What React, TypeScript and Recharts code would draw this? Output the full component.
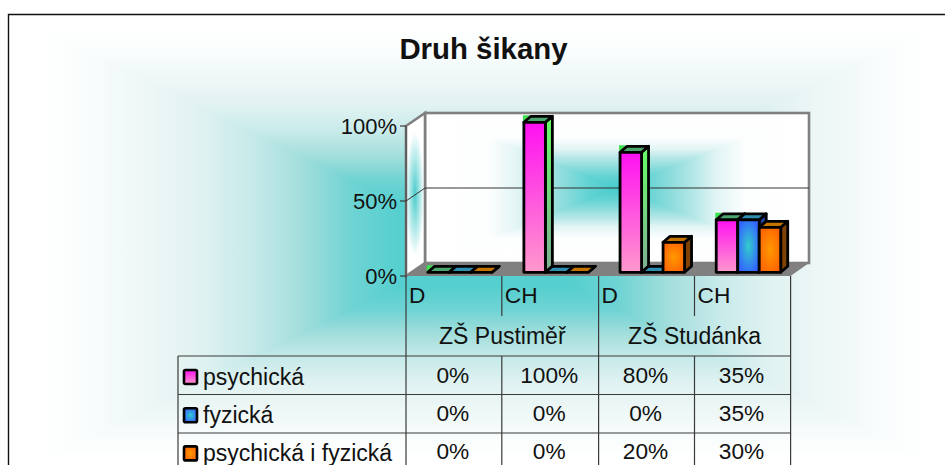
import { BarChart, Bar, XAxis, YAxis, CartesianGrid } from 'recharts';

const categories = ['D', 'CH', 'D', 'CH'];
const schools = ['ZŠ Pustiměř', 'ZŠ Studánka'];
const seriesNames = ['psychická', 'fyzická', 'psychická i fyzická'];
const psychicka = [0, 100, 80, 35];
const fyzicka = [0, 0, 0, 35];
const oboji = [0, 0, 20, 30];
const yTicks = [0, 50, 100];

const seriesValues = [psychicka, fyzicka, oboji];
const chartData = categories.map((c, i) => ({
  key: i,
  label: c,
  psychicka: psychicka[i],
  fyzicka: fyzicka[i],
  oboji: oboji[i],
}));

const FONT = "'Liberation Sans', Arial, sans-serif";
const TEXT = '#111111';
const LINE = '#3a3a3a';

// plot box of the bars (front plane of the columns)
const PLOT = { left: 411.7, right: 796.4, top: 122.3, bottom: 272.3 };
// wall and floor corners
const FRONT = { left: 406, right: 790.6, top: 126, bottom: 276 };
const BACK = { left: 425, right: 809, top: 113, bottom: 263 };
const DEPTH_X = 7;
const DEPTH_Y = 6;

const columns = [406, 501.8, 598.6, 694.5, 790.6];
const rows = [356, 394.5, 433, 471];

const bgStops: [number, string][] = [
  [0, '#ffffff'],
  [0.09, '#fafdfd'],
  [0.24, '#edf7f6'],
  [0.36, '#dff2f1'],
  [0.47, '#c8eaea'],
  [0.58, '#a5dfdd'],
  [0.7, '#6fd3d3'],
  [0.81, '#55cfcf'],
  [1, '#52cdcd'],
];
const wallStops: [number, string][] = [
  [0, '#ffffff'],
  [0.33, '#fdfefe'],
  [0.49, '#e0f4f4'],
  [0.59, '#b8e8e8'],
  [0.72, '#8edcdc'],
  [0.85, '#62d3d3'],
  [1, '#48cbcb'],
];

function PathGradient({
  id,
  box,
  stops,
}: {
  id: string;
  box: { l: number; t: number; r: number; b: number };
  stops: [number, string][];
}) {
  const cx = (box.l + box.r) / 2;
  const cy = (box.t + box.b) / 2;
  const sides = [
    { k: 't', pts: `${box.l},${box.t} ${box.r},${box.t} ${cx},${cy}`, g: [cx, box.t, cx, cy] },
    { k: 'b', pts: `${box.l},${box.b} ${box.r},${box.b} ${cx},${cy}`, g: [cx, box.b, cx, cy] },
    { k: 'l', pts: `${box.l},${box.t} ${box.l},${box.b} ${cx},${cy}`, g: [box.l, cy, cx, cy] },
    { k: 'r', pts: `${box.r},${box.t} ${box.r},${box.b} ${cx},${cy}`, g: [box.r, cy, cx, cy] },
  ];
  return (
    <g shapeRendering="crispEdges">
      {sides.map((s) => (
        <g key={s.k}>
          <linearGradient
            id={`${id}-${s.k}`}
            gradientUnits="userSpaceOnUse"
            x1={s.g[0]}
            y1={s.g[1]}
            x2={s.g[2]}
            y2={s.g[3]}
          >
            {stops.map(([o, c]) => (
              <stop key={o} offset={o} stopColor={c} />
            ))}
          </linearGradient>
          <polygon points={s.pts} fill={`url(#${id}-${s.k})`} />
        </g>
      ))}
    </g>
  );
}

function Backdrop() {
  const lines: number[][] = [
    [178, rows[0], columns[4], rows[0]],
    [178, rows[1], columns[4], rows[1]],
    [178, rows[2], columns[4], rows[2]],
    [178, rows[0], 178, 465],
    [columns[0], FRONT.bottom, columns[0], 465],
    [columns[2], FRONT.bottom, columns[2], 465],
    [columns[4], FRONT.bottom, columns[4], 465],
    [columns[1], FRONT.bottom, columns[1], 316],
    [columns[3], FRONT.bottom, columns[3], 316],
    [columns[1], rows[0], columns[1], 465],
    [columns[3], rows[0], columns[3], 465],
  ];
  return (
    <svg width={945} height={465} style={{ position: 'absolute', left: 0, top: 0 }}>
      <defs>
        <linearGradient id="pinkFront" x1="0" y1="0" x2="0" y2="1">
          <stop offset="0" stopColor="#ff10f2" />
          <stop offset="1" stopColor="#ff99cc" />
        </linearGradient>
        <linearGradient id="pinkSide" x1="0" y1="0" x2="0" y2="1">
          <stop offset="0" stopColor="#66ff66" />
          <stop offset="1" stopColor="#7fae95" />
        </linearGradient>
        <radialGradient id="blueFront" cx="0.5" cy="0.5" r="0.55">
          <stop offset="0" stopColor="#33cccc" />
          <stop offset="1" stopColor="#3366ff" />
        </radialGradient>
        <radialGradient id="orangeFront" cx="0.5" cy="0.5" r="0.55">
          <stop offset="0" stopColor="#ff9900" />
          <stop offset="1" stopColor="#ff6600" />
        </radialGradient>
        <radialGradient id="leftGlow" cx="0.5" cy="0.5" r="0.5">
          <stop offset="0" stopColor="#4ccccc" />
          <stop offset="1" stopColor="#4ccccc" stopOpacity="0" />
        </radialGradient>
      </defs>

      <PathGradient id="bg" box={{ l: 42, t: 30, r: 928, b: 460 }} stops={bgStops} />

      {/* frame, only the top and left edges are on the page */}
      <path d="M8.5 465 V14.5 H945" fill="none" stroke="#111111" strokeWidth={1.4} />

      <text x={483.5} y={59} textAnchor="middle" fontFamily={FONT} fontSize={29.4} fontWeight={700} fill={TEXT}>
        Druh šikany
      </text>

      {/* back wall */}
      <PathGradient
        id="wall"
        box={{ l: BACK.left, t: BACK.top, r: BACK.right, b: BACK.bottom }}
        stops={wallStops}
      />
      <rect
        x={BACK.left}
        y={BACK.top}
        width={BACK.right - BACK.left}
        height={BACK.bottom - BACK.top}
        fill="none"
        stroke="#808080"
        strokeWidth={2.6}
      />
      {/* left wall */}
      <polygon
        points={`${FRONT.left},${FRONT.top} ${BACK.left},${BACK.top} ${BACK.left},${BACK.bottom} ${FRONT.left},${FRONT.bottom}`}
        fill="#ffffff"
      />
      <ellipse cx={415} cy={194} rx={9} ry={62} fill="url(#leftGlow)" />
      <polygon
        points={`${FRONT.left},${FRONT.top} ${BACK.left},${BACK.top} ${BACK.left},${BACK.bottom} ${FRONT.left},${FRONT.bottom}`}
        fill="none"
        stroke="#808080"
        strokeWidth={2.6}
      />
      {/* floor */}
      <polygon
        points={`${FRONT.left},${FRONT.bottom} ${FRONT.right},${FRONT.bottom} ${BACK.right},${BACK.bottom} ${BACK.left},${BACK.bottom}`}
        fill="#808080"
      />
      <line x1={FRONT.left} y1={FRONT.top} x2={FRONT.left} y2={FRONT.bottom} stroke="#555555" strokeWidth={1.5} />

      {/* data table */}
      {lines.map((l, i) => (
        <line key={i} x1={l[0]} y1={l[1]} x2={l[2]} y2={l[3]} stroke={LINE} strokeWidth={1.2} />
      ))}
      {categories.map((c, i) => (
        <text key={i} x={columns[i] + 3} y={302.5} fontFamily={FONT} fontSize={22.7} fill={TEXT}>
          {c}
        </text>
      ))}
      {schools.map((s, i) => (
        <text
          key={s}
          x={(columns[i * 2] + columns[i * 2 + 2]) / 2}
          y={343.5}
          textAnchor="middle"
          fontFamily={FONT}
          fontSize={23}
          fill={TEXT}
        >
          {s}
        </text>
      ))}
      {seriesNames.map((name, r) => (
        <g key={name}>
          <rect
            x={184}
            y={370 + r * 38.2}
            width={13}
            height={14}
            rx={1.5}
            fill={['url(#pinkFront)', 'url(#blueFront)', 'url(#orangeFront)'][r]}
            stroke="#000000"
            strokeWidth={2.6}
          />
          <text x={203} y={385 + r * 37.8} fontFamily={FONT} fontSize={23} fill={TEXT}>
            {name}
          </text>
          {seriesValues[r].map((v, c) => (
            <text
              key={c}
              x={(columns[c] + columns[c + 1]) / 2 - 1}
              y={383 + r * 38}
              textAnchor="middle"
              fontFamily={FONT}
              fontSize={22.7}
              fill={TEXT}
            >
              {v}%
            </text>
          ))}
        </g>
      ))}
    </svg>
  );
}

interface BoxColors {
  front: string;
  side: string;
  top: string;
  corner?: string;
}

// a column with its top and right faces
function Box3D(props: any & { colors: BoxColors }) {
  const { x, y, width, height, colors } = props;
  const dx = DEPTH_X;
  const dy = DEPTH_Y;
  const right = x + width;
  const bottom = y + height;
  return (
    <g stroke="#000000" strokeWidth={2.8} strokeLinejoin="round">
      {colors.corner && (
        <polygon points={`${x - 1},${y - dy - 1} ${x + 6},${y - dy - 1} ${x - 1},${y}`} fill={colors.corner} stroke="none" />
      )}
      <polygon
        points={`${right},${y} ${right + dx},${y - dy} ${right + dx},${bottom - dy} ${right},${bottom}`}
        fill={colors.side}
      />
      <polygon
        points={`${x},${y} ${x + dx},${y - dy} ${right + dx},${y - dy} ${right},${y}`}
        fill={colors.top}
      />
      {height > 0 && <rect x={x} y={y} width={width} height={height} fill={colors.front} />}
    </g>
  );
}

const pinkColors: BoxColors = { front: 'url(#pinkFront)', side: 'url(#pinkSide)', top: '#4aa56f', corner: '#3fe04f' };
const blueColors: BoxColors = { front: 'url(#blueFront)', side: '#2244a8', top: '#2f8fb3' };
const orangeColors: BoxColors = { front: 'url(#orangeFront)', side: '#7f4200', top: '#c47400' };

function AxisTick({ y, payload }: any) {
  const shifted = y + (FRONT.bottom - PLOT.bottom);
  return (
    <g>
      <line x1={400} y1={shifted} x2={FRONT.left} y2={shifted} stroke={LINE} strokeWidth={1.2} />
      <text
        x={397}
        y={shifted + 8}
        textAnchor="end"
        fontFamily={FONT}
        fontSize={22}
        fill={TEXT}
      >
        {payload.value}%
      </text>
    </g>
  );
}

function WallGridLine({ y1 }: any) {
  const backY = y1 - (PLOT.bottom - BACK.bottom);
  const frontY = y1 + (FRONT.bottom - PLOT.bottom);
  return (
    <g stroke="#333333" strokeWidth={1}>
      <line x1={FRONT.left} y1={frontY} x2={BACK.left} y2={backY} />
      <line x1={BACK.left} y1={backY} x2={BACK.right} y2={backY} />
    </g>
  );
}

export default function App() {
  return (
    <div
      style={{
        position: 'absolute',
        left: 0,
        top: 0,
        width: 945,
        height: 465,
        overflow: 'hidden',
        background: '#FFFFFF',
      }}
    >
      <Backdrop />
      <div style={{ position: 'absolute', left: 0, top: 0 }}>
        <BarChart
          width={945}
          height={465}
          data={chartData}
          barGap={0}
          barSize={21.5}
          margin={{
            top: PLOT.top,
            left: PLOT.left - 1,
            right: 945 - PLOT.right,
            bottom: 465 - PLOT.bottom,
          }}
        >
          <CartesianGrid vertical={false} horizontalValues={[50]} horizontal={WallGridLine} />
          <XAxis dataKey="key" hide />
          <YAxis
            width={1}
            domain={[0, 100]}
            ticks={yTicks}
            axisLine={false}
            tickLine={false}
            tick={AxisTick}
            interval={0}
          />
          <Bar dataKey="psychicka" isAnimationActive={false} shape={(p: any) => <Box3D {...p} colors={pinkColors} />} />
          <Bar dataKey="fyzicka" isAnimationActive={false} shape={(p: any) => <Box3D {...p} colors={blueColors} />} />
          <Bar dataKey="oboji" isAnimationActive={false} shape={(p: any) => <Box3D {...p} colors={orangeColors} />} />
        </BarChart>
      </div>
    </div>
  );
}
